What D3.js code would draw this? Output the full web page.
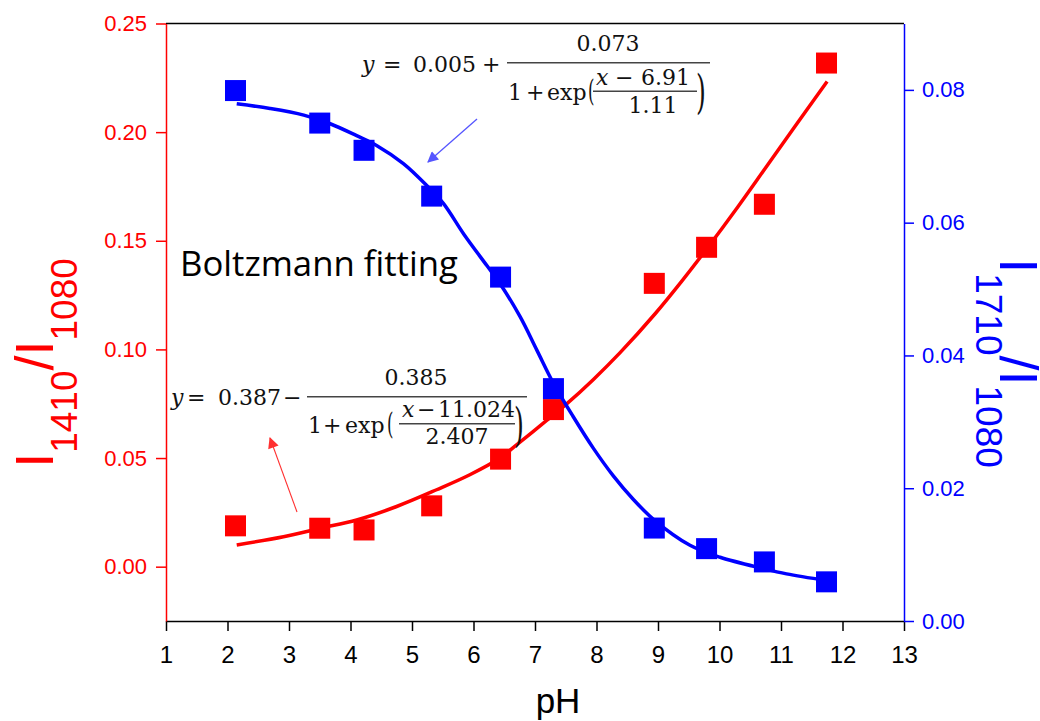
<!DOCTYPE html>
<html>
<head>
<meta charset="utf-8">
<script src="https://cdn.jsdelivr.net/npm/d3@7"></script>
<style>
  body { margin: 0; background: #fff; }
  svg { display: block; }
</style>
</head>
<body>
<script>
// measured points
const pH = [2.13, 3.50, 4.22, 5.32, 6.44, 7.30, 8.94, 9.79, 10.73, 11.74];
const ratio1410 = [0.0188, 0.0177, 0.0169, 0.0280, 0.0495, 0.0723, 0.1304, 0.1470, 0.1668, 0.2318];
const ratio1710 = [0.0799, 0.0750, 0.0709, 0.0640, 0.0518, 0.0350, 0.0140, 0.0109, 0.0089, 0.0059];

// fitted curves
const fitRedPH = [2.15, 2.91, 3.51, 4.10, 4.75, 5.40, 5.94, 6.43, 6.70, 7.19, 7.51, 7.95, 8.38, 8.95, 9.40, 9.79, 10.30, 10.73, 11.20, 11.75];
const fitRed = [0.0100, 0.0138, 0.0177, 0.0215, 0.0277, 0.0354, 0.0423, 0.0500, 0.0561, 0.0673, 0.0748, 0.0862, 0.0984, 0.1163, 0.1319, 0.1462, 0.1657, 0.1828, 0.2016, 0.2233];
const fitBluePH = [2.15, 2.69, 3.24, 3.67, 4.10, 4.43, 4.86, 5.24, 5.51, 5.84, 6.22, 6.44, 6.76, 7.03, 7.30, 7.62, 7.95, 8.27, 8.60, 8.94, 9.52, 10.01, 10.71, 11.09, 11.74];
const fitBlue = [0.0779, 0.0772, 0.0762, 0.0749, 0.0731, 0.0716, 0.0689, 0.0656, 0.0629, 0.0583, 0.0535, 0.0507, 0.0458, 0.0408, 0.0358, 0.0308, 0.0260, 0.0219, 0.0183, 0.0152, 0.0114, 0.0096, 0.0079, 0.0071, 0.0061];

const xTicks = d3.range(1, 14);
const leftTicks = [0, 0.05, 0.10, 0.15, 0.20, 0.25];
const rightTicks = [0, 0.02, 0.04, 0.06, 0.08];

const RED = "#ff0000", BLUE = "#0000ff";
const W = 1040, H = 721;
const L = 166, R = 904, T = 23.5, B = 621;

const svg = d3.select("body").append("svg").attr("width", W).attr("height", H);

const x = d3.scaleLinear().domain([1, 13]).range([L, R]);
const yL = d3.scaleLinear().domain([-0.025, 0.25]).range([B, T]);
const yR = d3.scaleLinear().domain([0, 0.09]).range([B, T]);

const sans = "'Liberation Sans', Arial, sans-serif";
const serif = "'DejaVu Serif', serif";

// top frame line
svg.append("line").attr("x1", L).attr("x2", R).attr("y1", T).attr("y2", T)
  .attr("stroke", "#000").attr("stroke-width", 1.5);

// bottom axis
const gx = svg.append("g").attr("transform", `translate(0,${B})`)
  .call(d3.axisBottom(x).tickValues(xTicks).tickSize(10).tickSizeOuter(0).tickPadding(15).tickFormat(d3.format("d")));
gx.select(".domain").attr("stroke", "#000").attr("stroke-width", 1.5);
gx.selectAll(".tick line").attr("stroke", "#000").attr("stroke-width", 1.5);
gx.selectAll(".tick text").attr("font-family", sans).attr("font-size", 24).attr("fill", "#000");

// left axis
const gl = svg.append("g").attr("transform", `translate(${L},0)`)
  .call(d3.axisLeft(yL).tickValues(leftTicks).tickSize(10).tickSizeOuter(0).tickPadding(9).tickFormat(d3.format(".2f")));
gl.select(".domain").attr("stroke", RED).attr("stroke-width", 1.5);
gl.selectAll(".tick line").attr("stroke", RED).attr("stroke-width", 1.5);
gl.selectAll(".tick text").attr("font-family", sans).attr("font-size", 22).attr("fill", RED);

// right axis
const gr = svg.append("g").attr("transform", `translate(${R},0)`)
  .call(d3.axisRight(yR).tickValues(rightTicks).tickSize(10).tickSizeOuter(0).tickPadding(8).tickFormat(d3.format(".2f")));
gr.select(".domain").attr("stroke", BLUE).attr("stroke-width", 1.5);
gr.selectAll(".tick line").attr("stroke", BLUE).attr("stroke-width", 1.5);
gr.selectAll(".tick text").attr("font-family", sans).attr("font-size", 22).attr("fill", BLUE);

// axis titles
svg.append("text").attr("x", 558).attr("y", 713).attr("text-anchor", "middle")
  .attr("font-family", sans).attr("font-size", 35).attr("fill", "#000").text("pH");

function ratioLabel(tx, ty, rot, sub, color) {
  const t = svg.append("text")
    .attr("transform", `translate(${tx},${ty}) rotate(${rot})`)
    .attr("text-anchor", "middle").attr("font-family", sans).attr("fill", color);
  t.append("tspan").attr("font-size", 54).text("I");
  t.append("tspan").attr("font-size", 37).attr("dy", 24).text(sub);
  t.append("tspan").attr("font-size", 54).attr("dy", -24).text("/I");
  t.append("tspan").attr("font-size", 37).attr("dy", 24).text("1080");
}
ratioLabel(53, 363, -90, "1410", RED);
ratioLabel(1000, 363, 90, "1710", BLUE);

// fit curves and markers
const lineL = d3.line().x(d => x(d[0])).y(d => yL(d[1])).curve(d3.curveCatmullRom);
const lineR = d3.line().x(d => x(d[0])).y(d => yR(d[1])).curve(d3.curveCatmullRom);
const sq = 21;

svg.append("path").datum(d3.zip(fitRedPH, fitRed)).attr("d", lineL)
  .attr("fill", "none").attr("stroke", RED).attr("stroke-width", 3.5);
svg.append("g").selectAll("rect").data(d3.zip(pH, ratio1410)).join("rect")
  .attr("x", d => x(d[0]) - sq / 2).attr("y", d => yL(d[1]) - sq / 2)
  .attr("width", sq).attr("height", sq).attr("fill", RED);

svg.append("path").datum(d3.zip(fitBluePH, fitBlue)).attr("d", lineR)
  .attr("fill", "none").attr("stroke", BLUE).attr("stroke-width", 3.5);
svg.append("g").selectAll("rect").data(d3.zip(pH, ratio1710)).join("rect")
  .attr("x", d => x(d[0]) - sq / 2).attr("y", d => yR(d[1]) - sq / 2)
  .attr("width", sq).attr("height", sq).attr("fill", BLUE);

// "Boltzmann fitting"
const bf = svg.append("text").attr("x", 180).attr("y", 276)
  .attr("font-family", "'Open Sans', sans-serif").attr("font-size", 30).attr("fill", "#000")
  .text("Boltzmann fitting");
const bfw = bf.node().getComputedTextLength();
bf.attr("font-size", 30 * 278 / bfw);

// arrows
const defs = svg.append("defs");
function arrowHead(id, color) {
  defs.append("marker").attr("id", id).attr("viewBox", "0 0 10 10")
    .attr("refX", 9).attr("refY", 5).attr("markerWidth", 13).attr("markerHeight", 11)
    .attr("markerUnits", "userSpaceOnUse").attr("orient", "auto")
    .append("path").attr("d", "M0,0 L10,5 L0,10 Z").attr("fill", color);
}
arrowHead("ahBlue", "#5555ff");
arrowHead("ahRed", "#ff3030");
svg.append("line").attr("x1", 477).attr("y1", 119).attr("x2", 428).attr("y2", 162)
  .attr("stroke", "#5555ff").attr("stroke-width", 1.3).attr("marker-end", "url(#ahBlue)");
svg.append("line").attr("x1", 297).attr("y1", 512).attr("x2", 270).attr("y2", 438)
  .attr("stroke", "#ff3030").attr("stroke-width", 1.1).attr("marker-end", "url(#ahRed)");

// equations
function equation(ox, oy, spec) {
  const g = svg.append("g").attr("transform", `translate(${ox},${oy})`)
    .attr("font-family", serif).attr("font-size", 22).attr("fill", "#111");
  spec.texts.forEach(s => {
    g.append("text").attr("x", s[0]).attr("y", s[1]).attr("text-anchor", s[3] || "start")
      .attr("font-style", s[4] ? "italic" : null).text(s[2]);
  });
  spec.bars.forEach(b => {
    g.append("line").attr("x1", b[0]).attr("x2", b[1]).attr("y1", b[2]).attr("y2", b[2])
      .attr("stroke", "#444").attr("stroke-width", 1.4);
  });
  spec.parens.forEach(p => {
    g.append("text").attr("transform", `translate(${p[0]},${p[1]}) scale(0.55,1)`)
      .attr("font-size", p[3]).text(p[2]);
  });
}

equation(507, 62.7, {
  texts: [
    [-145, 9, "y", "start", true], [-124, 9, "="], [-94, 9, "0.005"], [-25, 9, "+"],
    [101, -12, "0.073", "middle"],
    [1, 37, "1"], [19, 37, "+"], [40, 37, "exp"],
    [89, 22, "x", "start", true], [108, 22, "−"], [134, 22, "6.91"],
    [146, 50, "1.11", "middle"]
  ],
  bars: [[0, 203, 0], [86, 190, 28.5]],
  parens: [[81, 38, "(", 30], [189, 45, ")", 46]]
});

equation(307, 396.7, {
  texts: [
    [-136, 8, "y", "start", true], [-120, 8, "="], [-89, 8, "0.387"], [-24, 8, "−"],
    [109, -12, "0.385", "middle"],
    [1, 36, "1"], [16, 36, "+"], [38, 36, "exp"],
    [95, 20, "x", "start", true], [110, 20, "−"], [131, 20, "11.024"],
    [150, 47, "2.407", "middle"]
  ],
  bars: [[0, 220, 0], [92, 208, 27]],
  parens: [[80, 37, "(", 30], [207, 44, ")", 46]]
});
</script>
</body>
</html>
